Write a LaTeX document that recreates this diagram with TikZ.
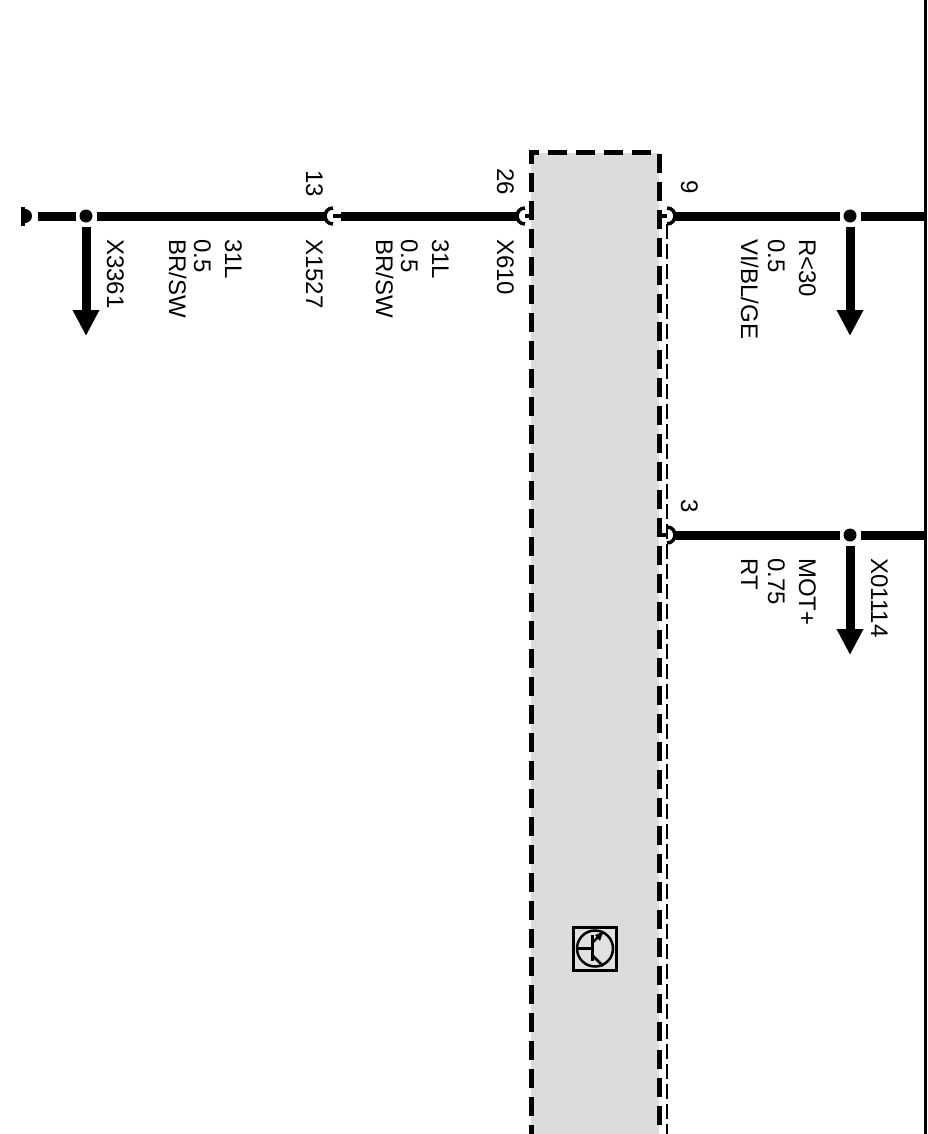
\documentclass[tikz,border=0pt]{standalone}
\usepackage{fontspec}
\setmainfont{Liberation Sans}
\usetikzlibrary{positioning,arrows.meta}
\definecolor{modulegray}{RGB}{220,220,220}
\tikzset{
  wire/.style={line width=9pt},
  stub/.style={line width=3.5pt},
  branch/.style={line width=9pt,-{Triangle[length=26pt,width=25pt]}},
  splice/.style={circle,fill=black,minimum size=13pt,inner sep=0pt,outer sep=4pt},
  pinnode/.style={circle,minimum size=16pt,inner sep=0pt,outer sep=0pt},
  module/.style={draw,fill=modulegray,line width=5pt,dash pattern=on 19pt off 9pt,
    minimum width=128pt,minimum height=1040pt,anchor=north west,inner sep=0pt,outer sep=0pt},
  lbl/.style={rotate=-90,anchor=base west,inner sep=0pt,font=\fontsize{24}{24}\selectfont},
  cup/.pic={\draw[stub] (0,-8) .. controls (-10.5,-8) and (-10.5,8) .. (0,8);},
  gndsym/.pic={\fill (-6,-9.5) rectangle (-2,9.5);
    \fill (-2,-7) arc[start angle=-90,end angle=90,radius=7];}
}
\begin{document}
\begin{tikzpicture}[x=1pt,y=-1pt]
   \useasboundingbox (0,0) rectangle (927,1134);
   \fill[white] (0,0) rectangle (927,1134);
   % module and rail
   \node[module] (ecu) at (531,153) {};
   \coordinate (railtop) at (925.5,-5);
   \coordinate (railend) at (925.5,1140);
   \draw[line width=3pt] (railtop) -- (railend);
   % pins and splices
   \node[pinnode] (gnd) at (27,216) {};
   \node[splice] (spA) at (86,216) {};
   \node[pinnode] (pinB) at (333,216) {};
   \node[pinnode] (pinC) at (525,216) {};
   \node[pinnode] (pinD) at (667,216) {};
   \node[splice] (spD) at (850,216) {};
   \node[pinnode] (pinE) at (667,535) {};
   \node[splice] (spE) at (850,535) {};
   \coordinate (tipA) at (86,336);
   \coordinate (tipD) at (850,336);
   \coordinate (tipE) at (850,655);
   \coordinate (shieldend) at (667,1140);
   \pic at (gnd) {gndsym};
   \pic at (pinB) {cup};
   \pic at (pinC) {cup};
   \pic[xscale=-1] at (pinD) {cup};
   \pic[xscale=-1] at (pinE) {cup};
   % wires
   \draw[wire] (gnd.east)+(3,0) -- (spA);
   \draw[wire] (spA) -- (pinB.west);
   \draw[wire] (pinB.east) -- (pinC.west);
   \draw[wire] (pinD.east) -- (spD);
   \draw[wire] (spD) -- (spD-|railtop);
   \draw[wire] (pinE.east) -- (spE);
   \draw[wire] (spE) -- (spE-|railtop);
   \draw[stub] (pinB.center) -- (pinB.east);
   \draw[stub] (pinC.center) -- (pinC-|ecu.west);
   \draw[stub] (pinD-|ecu.east) -- (pinD.center);
   \draw[stub] (pinE-|ecu.east) -- (pinE.center);
   \draw[line width=1.8pt,dash pattern=on 15pt off 5pt] (pinD.south) -- (shieldend);
   % branches
   \draw[branch] (spA) -- (tipA);
   \draw[branch] (spD) -- (tipD);
   \draw[branch] (spE) -- (tipE);
   % labels
   \node[lbl] (numB) at (306,170) {13};
   \node[lbl] (numC) at (497,168) {26};
   \node[lbl] (numD) at (681,180) {9};
   \node[lbl] (numE) at (681,499) {3};
   \node[lbl] (conA) at (107,239) {X3361};
   \node[lbl] (sigA) at (225,239) {31L};
   \node[lbl] (secA) at (194,239) {0.5};
   \node[lbl] (colA) at (169,239) {BR/SW};
   \node[lbl] (conB) at (306,239) {X1527};
   \node[lbl] (sigB) at (432,239) {31L};
   \node[lbl] (secB) at (401,239) {0.5};
   \node[lbl] (colB) at (376,239) {BR/SW};
   \node[lbl] (conC) at (497,239) {X610};
   \node[lbl] (sigD) at (799,239) {R<30};
   \node[lbl] (secD) at (768,239) {0.5};
   \node[lbl] (colD) at (741,239) {VI/BL/GE};
   \node[lbl] (sigE) at (799,558) {MOT+};
   \node[lbl] (secE) at (768,558) {0.75};
   \node[lbl] (colE) at (741,558) {RT};
   \node[lbl] (conE) at (871,558) {X01114};
   % transistor icon
   \node[draw,fill=modulegray!85,line width=3pt,minimum size=43pt,inner sep=0pt,outer sep=0pt] (icon) at (595,948.5) {};
   \node[draw,circle,line width=2.5pt,minimum size=36pt,inner sep=0pt,outer sep=0pt] (disc) at (595,948.5) {};
   \draw[line width=2.5pt] (disc.west) -- ++(15,0);
   \draw[line width=3pt] (592,935) -- (592,961);
   \draw[line width=2.5pt] (592,943) -- (603,932);
   \draw[line width=2.5pt] (592,955) -- (603,966);
   \fill (603,932) -- (595,935) -- (600,941) -- cycle;
\end{tikzpicture}
\end{document}
